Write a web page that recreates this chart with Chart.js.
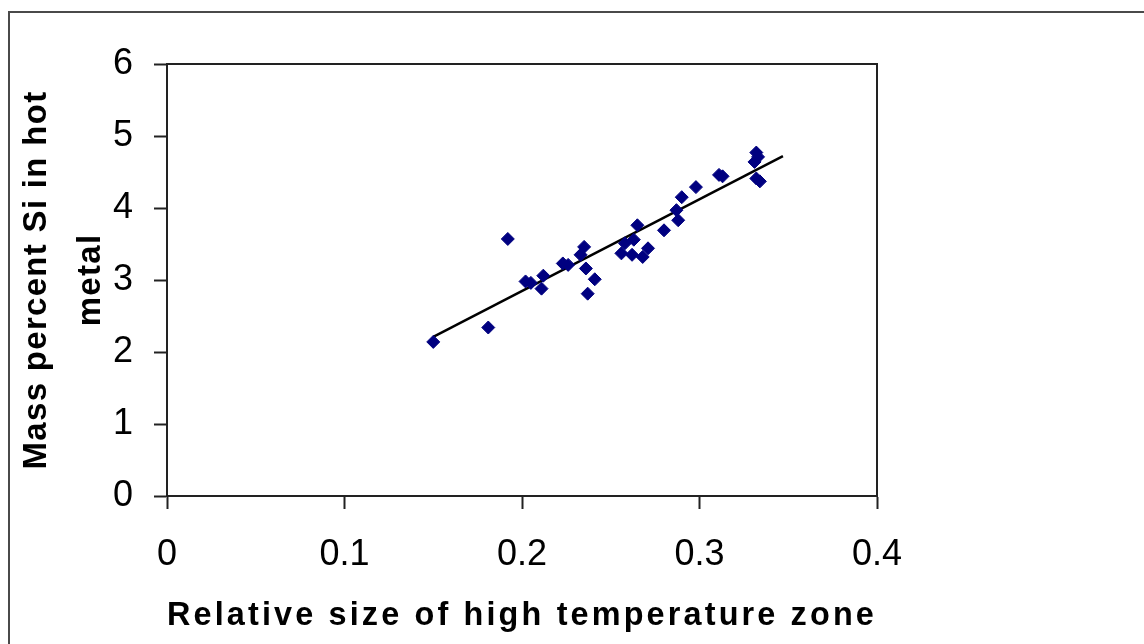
<!DOCTYPE html>
<html>
<head>
<meta charset="utf-8">
<script src="https://cdn.jsdelivr.net/npm/chart.js@4"></script>
<style>
  body { margin: 0; background: #fff; }
  canvas { display: block; }
</style>
</head>
<body>
<canvas id="chart" width="1144" height="644"></canvas>
<script>
// zone size vs Si content
const zoneSize = [0.150, 0.181, 0.192, 0.202, 0.205, 0.212, 0.211, 0.223, 0.226, 0.235, 0.233,
  0.236, 0.241, 0.237, 0.256, 0.262, 0.268, 0.271, 0.265, 0.258, 0.263, 0.280, 0.287, 0.288,
  0.290, 0.298, 0.311, 0.313, 0.332, 0.333, 0.331, 0.332, 0.334]
const siPercent = [2.14, 2.34, 3.57, 2.98, 2.96, 3.06, 2.88, 3.23, 3.21, 3.46, 3.35,
  3.16, 3.01, 2.81, 3.37, 3.35, 3.32, 3.44, 3.76, 3.51, 3.56, 3.69, 3.97, 3.83,
  4.15, 4.29, 4.46, 4.44, 4.77, 4.71, 4.64, 4.41, 4.37]

// trend line ends
const trendX = [0.150, 0.347]
const trendY = [2.21, 4.72]

const xTitle = 'Relative size of high temperature zone'
const yTitle = ['Mass percent Si in hot', 'metal']

const FONT = "'Liberation Sans', Arial, sans-serif"

function toPoints(xs, ys) {
  return xs.map((x, i) => ({ x: x, y: ys[i] }))
}

// outer chart border and the plot frame
const frames = {
  id: 'frames',
  beforeDraw(chart) {
    const ctx = chart.ctx
    ctx.save()
    ctx.strokeStyle = '#4a4a4a'
    ctx.lineWidth = 2
    ctx.strokeRect(9, 12, 1200, 700)
    ctx.restore()
  },
  afterDatasetsDraw(chart) {
    const a = chart.chartArea
    const ctx = chart.ctx
    ctx.save()
    ctx.strokeStyle = '#222'
    ctx.lineWidth = 2
    ctx.strokeRect(a.left, a.top, a.right - a.left, a.bottom - a.top)
    ctx.restore()
  }
}

// titles in the picture are letter spaced
const titleSpacing = { x: '3.2px', y: '1.3px' }
const spacedTitles = {
  id: 'spacedTitles',
  beforeDraw(chart) {
    Object.values(chart.scales).forEach(s => {
      if (s._spaced) return
      const orig = s.drawTitle.bind(s)
      s.drawTitle = function () {
        const c = this.ctx
        const prev = c.letterSpacing
        c.letterSpacing = titleSpacing[this.id] || '0px'
        orig()
        c.letterSpacing = prev
      }
      s._spaced = true
    })
  }
}

const chart = new Chart(document.getElementById('chart'), {
  type: 'scatter',
  data: {
    datasets: [
      {
        data: toPoints(zoneSize, siPercent),
        pointStyle: 'rectRot',
        pointRadius: 6.5,
        pointBackgroundColor: '#000080',
        pointBorderColor: '#000080',
        pointBorderWidth: 1
      },
      {
        data: toPoints(trendX, trendY),
        showLine: true,
        borderColor: '#000',
        borderWidth: 2.5,
        pointRadius: 0
      }
    ]
  },
  options: {
    responsive: false,
    animation: false,
    layout: { padding: { top: 64, right: 267, left: 0, bottom: 0 } },
    plugins: { legend: { display: false }, tooltip: { enabled: false } },
    scales: {
      x: {
        type: 'linear',
        min: 0,
        max: 0.4,
        ticks: { stepSize: 0.1, color: '#000', padding: 24, font: { family: FONT, size: 36 } },
        grid: { drawOnChartArea: false, drawTicks: true, tickLength: 13, tickColor: '#222', tickWidth: 2 },
        border: { color: '#222', width: 2 },
        title: {
          display: true,
          text: xTitle,
          color: '#000',
          font: { family: FONT, size: 33, weight: 'bold', lineHeight: 1.2 },
          padding: { top: 0, bottom: 8 }
        },
        afterFit(scale) { scale.height = 148 }
      },
      y: {
        type: 'linear',
        min: 0,
        max: 6,
        ticks: { stepSize: 1, color: '#000', padding: 21, font: { family: FONT, size: 36 } },
        grid: { drawOnChartArea: false, drawTicks: true, tickLength: 13, tickColor: '#222', tickWidth: 2 },
        border: { color: '#222', width: 2 },
        title: {
          display: true,
          text: yTitle,
          color: '#000',
          font: { family: FONT, size: 33, weight: 'bold', lineHeight: 1.64 },
          padding: { top: 10, bottom: 0 }
        },
        afterFit(scale) { scale.width = 167 }
      }
    }
  },
  plugins: [frames, spacedTitles]
})
</script>
</body>
</html>
